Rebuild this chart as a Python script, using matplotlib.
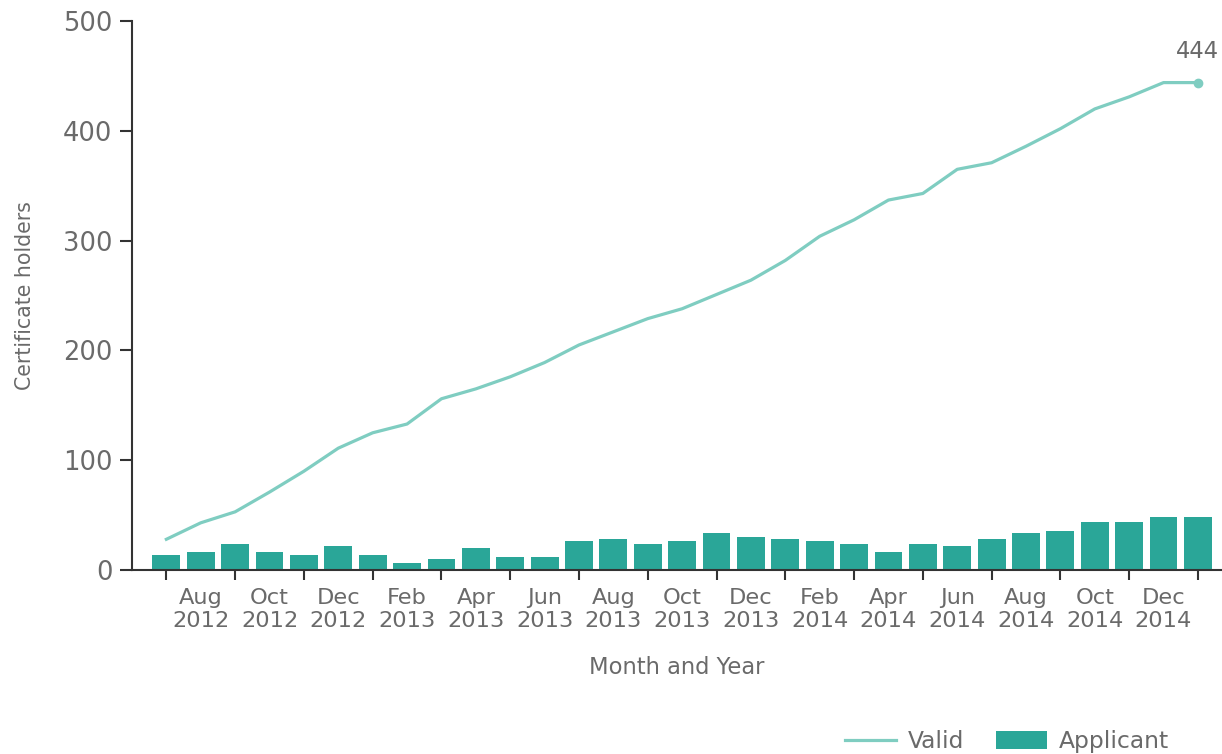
import numpy as np
import matplotlib
matplotlib.use("Agg")
import matplotlib.pyplot as plt
from matplotlib.lines import Line2D
from matplotlib.patches import Patch

plt.rcParams['font.family'] = ['DejaVu Sans']

# monthly data, Jul 2012 .. Jan 2015
months = ['Jul 2012', 'Aug 2012', 'Sep 2012', 'Oct 2012', 'Nov 2012', 'Dec 2012',
          'Jan 2013', 'Feb 2013', 'Mar 2013', 'Apr 2013', 'May 2013', 'Jun 2013',
          'Jul 2013', 'Aug 2013', 'Sep 2013', 'Oct 2013', 'Nov 2013', 'Dec 2013',
          'Jan 2014', 'Feb 2014', 'Mar 2014', 'Apr 2014', 'May 2014', 'Jun 2014',
          'Jul 2014', 'Aug 2014', 'Sep 2014', 'Oct 2014', 'Nov 2014', 'Dec 2014',
          'Jan 2015']
applicant = [14, 16, 24, 16, 14, 22, 14, 6, 10, 20, 12, 12, 26, 28, 24, 26,
             34, 30, 28, 26, 24, 16, 24, 22, 28, 34, 36, 44, 44, 48, 48]
valid = [28, 43, 53, 71, 90, 111, 125, 133, 156, 165, 176, 189, 205, 217, 229,
         238, 251, 264, 282, 304, 319, 337, 343, 365, 371, 386, 402, 420, 431,
         444, 444]

line_col = '#7fcdc1'
bar_col = '#2aa698'
text_col = '#6a6a6a'
axis_col = '#333333'

fig = plt.figure(figsize=(12.22, 7.54), dpi=100)
ax = fig.add_axes([0.108, 0.244, 0.892, 0.728])

x = np.arange(len(months))
ax.bar(x, applicant, width=0.81, color=bar_col, zorder=2)
ax.plot(x, valid, color=line_col, lw=2.3, zorder=3, solid_joinstyle='round')
ax.plot(x[-1], valid[-1], 'o', color=line_col, ms=6, zorder=4)
ax.annotate(str(valid[-1]), (x[-1], valid[-1]), xytext=(0, 14),
            textcoords='offset points', ha='center', va='bottom',
            fontsize=16.3, color=text_col)

ax.set_xlim(-1, 30.7)
ax.set_ylim(0, 500)

for s in ['top', 'right']:
    ax.spines[s].set_visible(False)
for s in ['left', 'bottom']:
    ax.spines[s].set_color(axis_col)
    ax.spines[s].set_linewidth(1.5)

ax.set_yticks([0, 100, 200, 300, 400, 500])
ax.tick_params(axis='y', length=9, width=1.5, color=axis_col,
               labelsize=18.5, labelcolor=text_col, pad=5)

# tick marks every other month, labels offset by one month
ax.set_xticks(x[::2])
ax.set_xticks(x[1::2], minor=True)
ax.set_xticklabels([])
ax.set_xticklabels([m.replace(' ', '\n') for m in months[1::2]], minor=True)
ax.tick_params(axis='x', which='major', length=7.5, width=1.5, color=axis_col)
ax.tick_params(axis='x', which='minor', length=0, labelsize=16.2,
               labelcolor=text_col, pad=13)
for lbl in ax.get_xticklabels(minor=True):
    lbl.set_linespacing(1.2)

ax.set_ylabel('Certificate holders', fontsize=14.8, color=text_col, labelpad=20)
ax.set_xlabel('Month and Year', fontsize=16.3, color=text_col, labelpad=18)

handles = [Line2D([], [], color=line_col, lw=2.3),
           Patch(facecolor=bar_col)]
leg = fig.legend(handles, ['Valid', 'Applicant'], loc='lower right',
                 bbox_to_anchor=(0.974, -0.027), ncol=2, frameon=False,
                 fontsize=16.8, handlelength=2.2, handleheight=0.8,
                 columnspacing=1.37, handletextpad=0.5)
for t in leg.get_texts():
    t.set_color(text_col)

fig.savefig('out.png', dpi=100)
